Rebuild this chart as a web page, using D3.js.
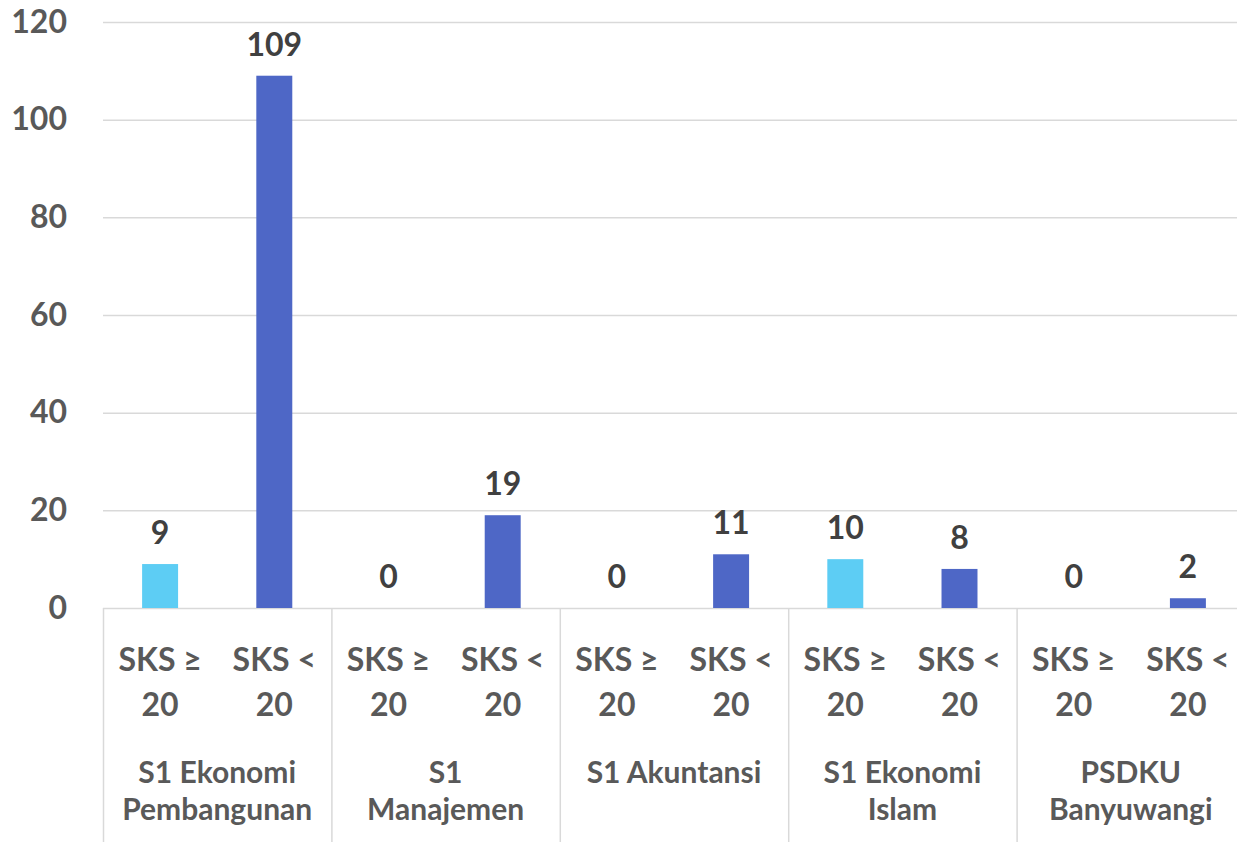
<!DOCTYPE html>
<html>
<head>
<meta charset="utf-8">
<script src="https://cdn.jsdelivr.net/npm/d3@7"></script>
<style>
  body { margin: 0; background: #fff; }
  text { font-family: Lato, "Open Sans", sans-serif; font-weight: bold; }
</style>
</head>
<body>
<svg id="chart" width="1237" height="842"></svg>
<script>
// data
var programs = ["S1 Ekonomi|Pembangunan", "S1|Manajemen", "S1 Akuntansi", "S1 Ekonomi|Islam", "PSDKU|Banyuwangi"];
var sksTypes = ["SKS ≥|20", "SKS <|20"];
var valuesGte20 = [9, 0, 0, 10, 0];   // SKS >= 20
var valuesLt20 = [109, 19, 11, 8, 2]; // SKS < 20
var yTicks = [0, 20, 40, 60, 80, 100, 120];

var colors = ["#5DCDF4", "#4E67C6"];
var fontSize = "32px";

var svg = d3.select("#chart");
var margin = {left: 103, right: -8, top: 22, bottom: 234};
var width = +svg.attr("width");
var height = +svg.attr("height");

// build rows: one per bar
var rows = [];
programs.forEach(function(p, i) {
  rows.push({key: i + "-0", program: i, type: 0, value: valuesGte20[i]});
  rows.push({key: i + "-1", program: i, type: 1, value: valuesLt20[i]});
});

// scales
var x = d3.scaleBand()
  .domain(rows.map(d => d.key))
  .range([margin.left, width - margin.right])
  .paddingInner(0.685)
  .paddingOuter(0.3425);

var xGroup = d3.scaleBand()
  .domain(programs)
  .range([margin.left, width - margin.right]);

var y = d3.scaleLinear()
  .domain([0, 120])
  .range([height - margin.bottom, margin.top]);

// gridlines
svg.append("g")
  .selectAll("line")
  .data(yTicks)
  .enter().append("line")
    .attr("x1", margin.left)
    .attr("x2", width)
    .attr("y1", d => y(d) + 0.5)
    .attr("y2", d => y(d) + 0.5)
    .attr("stroke", "#d9d9d9")
    .attr("stroke-width", 1.5);

// y axis labels
var yAxis = d3.axisLeft(y).tickValues(yTicks).tickSize(0).tickPadding(36);
var gy = svg.append("g")
  .attr("transform", "translate(" + margin.left + ",0)")
  .call(yAxis);
gy.select(".domain").remove();
gy.selectAll("text")
  .attr("font-size", fontSize)
  .attr("fill", "#595959")
  .attr("font-family", "Lato, 'Open Sans', sans-serif");

// group separators
var bounds = programs.map(p => xGroup(p)).concat([width - margin.right]);
svg.append("g")
  .selectAll("line")
  .data(bounds)
  .enter().append("line")
    .attr("x1", d => d + 0.5)
    .attr("x2", d => d + 0.5)
    .attr("y1", y(0))
    .attr("y2", height)
    .attr("stroke", "#d9d9d9")
    .attr("stroke-width", 1.5);

// bars
svg.append("g")
  .selectAll("rect")
  .data(rows)
  .enter().append("rect")
    .attr("x", d => x(d.key))
    .attr("width", x.bandwidth())
    .attr("y", d => y(d.value))
    .attr("height", d => y(0) - y(d.value))
    .attr("fill", d => colors[d.type]);

// value labels
svg.append("g")
  .selectAll("text")
  .data(rows)
  .enter().append("text")
    .attr("x", d => x(d.key) + x.bandwidth() / 2)
    .attr("y", d => y(d.value) - 20)
    .attr("text-anchor", "middle")
    .attr("font-size", fontSize)
    .attr("fill", "#404040")
    .text(d => d.value);

// category labels (two lines)
var catLabels = svg.append("g")
  .selectAll("text")
  .data(rows)
  .enter().append("text")
    .attr("text-anchor", "middle")
    .attr("font-size", fontSize)
    .attr("fill", "#595959");
catLabels.selectAll("tspan")
  .data(d => sksTypes[d.type].split("|").map(t => ({t: t, cx: x(d.key) + x.bandwidth() / 2})))
  .enter().append("tspan")
    .attr("x", d => d.cx)
    .attr("y", (d, i) => 671 + i * 45)
    .text(d => d.t);

// program labels
var progLabels = svg.append("g")
  .selectAll("text")
  .data(programs)
  .enter().append("text")
    .attr("text-anchor", "middle")
    .attr("font-size", "30px")
    .attr("fill", "#595959");
progLabels.selectAll("tspan")
  .data(p => p.split("|").map(t => ({t: t, cx: xGroup(p) + xGroup.bandwidth() / 2})))
  .enter().append("tspan")
    .attr("x", d => d.cx)
    .attr("y", (d, i) => 783 + i * 36.5)
    .text(d => d.t);
</script>
</body>
</html>
